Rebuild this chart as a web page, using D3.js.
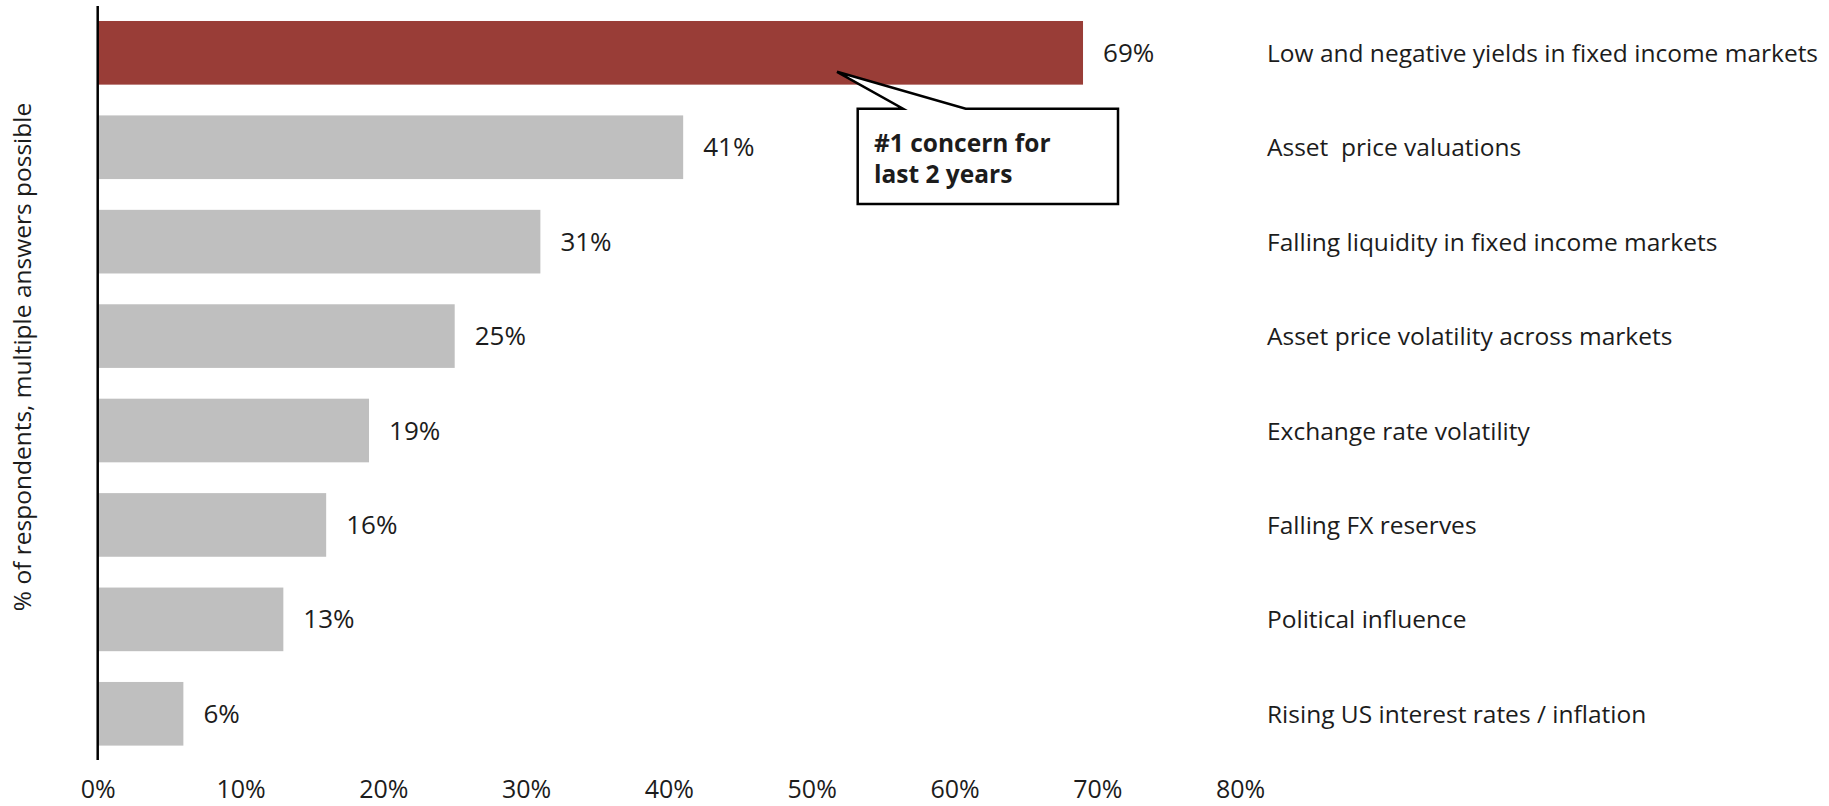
<!DOCTYPE html>
<html>
<head>
<meta charset="utf-8">
<script src="https://cdn.jsdelivr.net/npm/d3@7"></script>
<style>
  html, body { margin: 0; padding: 0; background: #ffffff; }
  svg { display: block; }
  text { font-family: "Open Sans", "Noto Sans", sans-serif; fill: #1c1c1c; }
</style>
</head>
<body>
<svg id="chart" width="1829" height="806"></svg>
<script>
// Concerns ranked by share of respondents (%)
const categories = [
  "Low and negative yields in fixed income markets",
  "Asset  price valuations",
  "Falling liquidity in fixed income markets",
  "Asset price volatility across markets",
  "Exchange rate volatility",
  "Falling FX reserves",
  "Political influence",
  "Rising US interest rates / inflation"
];
const values = [69, 41, 31, 25, 19, 16, 13, 6];
const tickValues = [0, 10, 20, 30, 40, 50, 60, 70, 80];
const highlightIndex = 0;
const axisTitle = "% of respondents, multiple answers possible";
const calloutLines = ["#1 concern for", "last 2 years"];

const svg = d3.select("#chart");

const x = d3.scaleLinear().domain([0, 80]).range([97.7, 1240.1]);
const y = d3.scaleBand()
  .domain(categories)
  .range([5.6, 761])
  .paddingInner(0.326)
  .paddingOuter(0.163);

const barFill = (d, i) => i === highlightIndex ? "#993D37" : "#BFBFBF";

// Bars
svg.append("g")
  .selectAll("rect")
  .data(values)
  .join("rect")
  .attr("x", x(0))
  .attr("y", (d, i) => y(categories[i]))
  .attr("width", d => x(d) - x(0))
  .attr("height", y.bandwidth())
  .attr("fill", barFill);

// Value labels
svg.append("g")
  .selectAll("text")
  .data(values)
  .join("text")
  .attr("x", d => x(d) + 20)
  .attr("y", (d, i) => y(categories[i]) + y.bandwidth() / 2 + 9)
  .style("font-size", "26px")
  .text(d => d + "%");

// Category labels on the right
svg.append("g")
  .selectAll("text")
  .data(categories)
  .join("text")
  .attr("x", 1267)
  .attr("y", d => y(d) + y.bandwidth() / 2 + 9)
  .style("font-size", "24.5px")
  .style("white-space", "pre")
  .attr("xml:space", "preserve")
  .text(d => d);

// Value axis tick labels
const xAxis = d3.axisBottom(x)
  .tickValues(tickValues)
  .tickSize(0)
  .tickPadding(0)
  .tickFormat(d => d + "%");
const gx = svg.append("g")
  .attr("transform", "translate(0,779)")
  .call(xAxis);
gx.select(".domain").remove();
gx.selectAll("text")
  .attr("dy", "0.76em")
  .style("font-size", "25px")
  .style("font-family", "\"Open Sans\", \"Noto Sans\", sans-serif")
  .attr("fill", "#1c1c1c");

// Category axis line
svg.append("line")
  .attr("x1", x(0)).attr("x2", x(0))
  .attr("y1", 6).attr("y2", 760)
  .attr("stroke", "#000")
  .attr("stroke-width", 2.5);

// Axis title
svg.append("text")
  .attr("transform", "translate(31,357) rotate(-90)")
  .attr("text-anchor", "middle")
  .style("font-size", "24.5px")
  .text(axisTitle);

// Callout pointing at the highlighted bar
const hb = y(categories[highlightIndex]) + y.bandwidth() / 2;
const box = { left: 857.7, right: 1118, top: 108.7, bottom: 204 };
const tip = [x(values[highlightIndex]) - 246, hb + 19];
const callout = d3.path();
callout.moveTo(box.left, box.top);
callout.lineTo(903, box.top);
callout.lineTo(tip[0], tip[1]);
callout.lineTo(965.7, box.top);
callout.lineTo(box.right, box.top);
callout.lineTo(box.right, box.bottom);
callout.lineTo(box.left, box.bottom);
callout.closePath();

svg.append("path")
  .attr("d", callout.toString())
  .attr("fill", "#ffffff")
  .attr("stroke", "#000")
  .attr("stroke-width", 2.5)
  .attr("stroke-linejoin", "miter");

svg.append("g")
  .selectAll("text")
  .data(calloutLines)
  .join("text")
  .attr("x", 874)
  .attr("y", (d, i) => 151.7 + i * 31)
  .style("font-size", "24.5px")
  .style("font-weight", "700")
  .text(d => d);
</script>
</body>
</html>
